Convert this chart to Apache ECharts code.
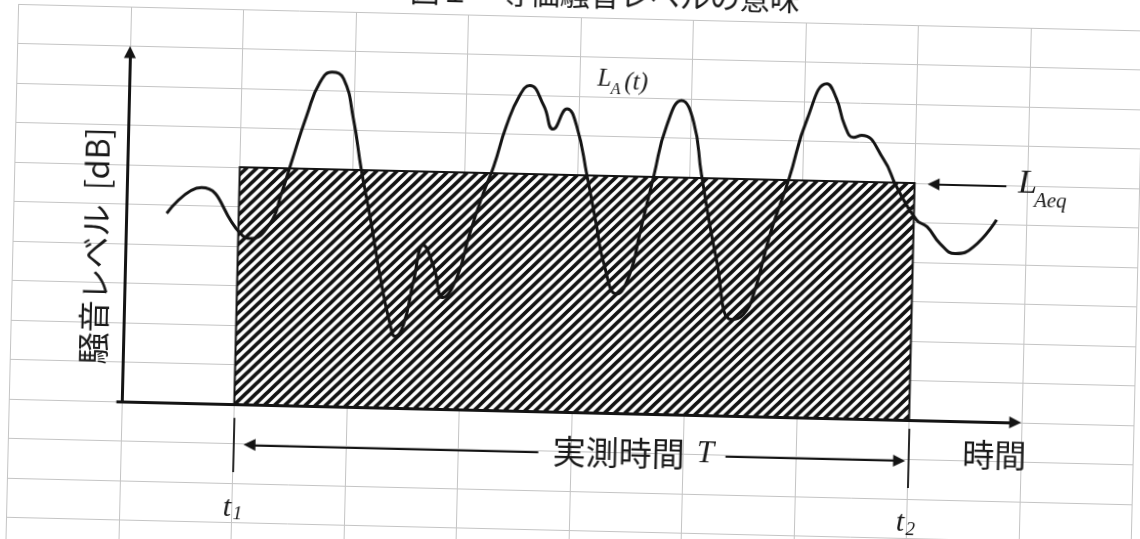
<!DOCTYPE html>
<html><head><meta charset="utf-8">
<script src="https://cdn.jsdelivr.net/npm/echarts@6/dist/echarts.min.js"></script>
<style>
html,body{margin:0;padding:0;background:#fff;overflow:hidden;width:1140px;height:539px;}
#wrap{position:absolute;left:0;top:0;width:1140px;height:539px;overflow:hidden;background:#fff}
#chart{position:absolute;left:-30px;top:-30px;width:1200px;height:600px;transform:rotate(1.35deg);transform-origin:600px 300px;}
</style></head><body><div id="wrap"><div id="chart"></div></div>
<script>
// ---- data ----
const titleText = '図１　等価騒音レベルの意味';
const yAxisName = '騒音レベル  [dB]';
const xAxisName = '時間';
const spanName = '実測時間';
const t1 = 12.5, t2 = 87.5;        // measurement start / end
const LAeq = 60;                   // equivalent level
const curveTime = [4.5,8.3,12.7,13.8,16.0,17.2,18.2,19.8,21.2,22.5,23.8,25.0,26.0,27.1,28.4,29.6,30.2,31.1,32.1,33.1,34.3,35.4,36.9,38.2,39.6,40.7,42.0,43.4,44.5,46.1,47.2,48.7,49.8,51.1,52.3,53.1,54.7,56.1,57.1,58.5,59.8,61.4,62.8,63.8,65.7,67.5,68.8,69.9,71.6,73.5,75.4,77.5,78.6,79.6,80.6,81.5,84.0,85.5,87.8,89.0,90.5,92.2,94.2,96.7];
const curveLevel = [47.9,54.6,43.3,42.0,45.9,53.7,61.4,73.5,82.0,84.6,83.0,72.8,60.1,48.2,32.9,21.1,18.1,21.2,32.3,41.3,35.9,28.2,33.4,44.5,54.8,61.7,72.0,79.8,82.4,77.4,71.5,76.7,72.5,59.8,47.0,38.5,30.1,35.3,45.6,60.2,73.0,79.5,74.1,60.9,39.3,24.4,25.7,30.9,46.4,60.1,75.6,84.6,80.9,74.1,71.2,71.8,65.8,59.0,50.7,49.0,44.8,42.4,44.2,51.2];
const axisTimeEnd = 100, axisLevelEnd = 90;

// ---- chart ----
function makeHatch(){
  const s = 10, c = document.createElement('canvas'); c.width = s; c.height = s;
  const g = c.getContext('2d'); g.fillStyle = '#fff'; g.fillRect(0,0,s,s);
  g.strokeStyle = '#121212'; g.lineWidth = 3.7;
  g.beginPath();
  g.moveTo(-2, s+2); g.lineTo(s+2, -2);
  g.moveTo(-3, 3); g.lineTo(3, -3);
  g.moveTo(s-3, s+3); g.lineTo(s+3, s-3);
  g.stroke();
  return c;
}
const hatch = makeHatch();
const chart = echarts.init(document.getElementById('chart'), null, {renderer:'canvas'});
const ink = '#141414';
const arrowLine = (a, b) => [{coord:a}, {coord:b}];
chart.setOption({
  animation: false,
  backgroundColor: '#fff',
  grid: {left: 42.5, right: 32.5, top: 47, bottom: 0, show: false},
  xAxis: {type:'value', min:-12.5, max:112.5, interval:12.5,
    axisLine:{show:false}, axisTick:{show:false}, axisLabel:{show:false},
    splitLine:{show:true, lineStyle:{color:'#c4c4c4', width:1}}},
  yAxis: {type:'value', min:-40, max:100, interval:10,
    axisLine:{show:false}, axisTick:{show:false}, axisLabel:{show:false},
    splitLine:{show:true, lineStyle:{color:'#c4c4c4', width:1}}},
  series: [
    {type:'custom', z:2, silent:true, data:[[t1, t2, LAeq]],
     renderItem(params, api){
       const a = api.coord([api.value(0), api.value(2)]);
       const b = api.coord([api.value(1), 0]);
       return {type:'rect', shape:{x:a[0], y:a[1], width:b[0]-a[0], height:b[1]-a[1]},
         style:{fill:{image:hatch, repeat:'repeat'}, stroke:ink, lineWidth:2}};
     }},
    {type:'line', z:5, silent:true, smooth:0.5, symbol:'none',
     data: curveTime.map((t,i)=>[t, curveLevel[i]]),
     lineStyle:{color:ink, width:3}},
    {type:'line', z:4, silent:true, symbol:'none', data:[], lineStyle:{width:0},
     markLine:{silent:true, animation:false, symbol:['none','triangle'], symbolSize:12,
       label:{show:false}, emphasis:{disabled:true},
       lineStyle:{color:ink, width:3, type:'solid'},
       data:[arrowLine([-0.6,0],[axisTimeEnd-0.7,0]), arrowLine([0,0],[0,axisLevelEnd-1.5])]}},
    {type:'line', z:4, silent:true, symbol:'none', data:[], lineStyle:{width:0},
     markLine:{silent:true, animation:false, symbol:['none','triangle'], symbolSize:12,
       label:{show:false}, emphasis:{disabled:true},
       lineStyle:{color:ink, width:1.8, type:'solid'},
       data:[arrowLine([46.4,-10.2],[14.3,-10.2]), arrowLine([67.2,-10.4],[86.5,-10.4]), arrowLine([97.7,59.8],[89.6,59.8])]}},
    {type:'line', z:4, silent:true, symbol:'none', data:[], lineStyle:{width:0},
     markLine:{silent:true, animation:false, symbol:['none','none'],
       label:{show:false}, emphasis:{disabled:true},
       lineStyle:{color:ink, width:1.8, type:'solid'},
       data:[arrowLine([t1,-3.5],[t1,-17.2]), arrowLine([t2,-2.2],[t2,-17.2])]}}
  ]
});

const P = v => chart.convertToPixel({gridIndex:0}, v);
const CJK = '"Noto Sans CJK JP", sans-serif';
const SERIF = '"Liberation Serif", "DejaVu Serif", serif';
function txt(v, text, font, align, extra){
  const p = P(v);
  return Object.assign({type:'text', x:p[0], y:p[1], silent:true, z:10,
    style:{text:text, font:font, fill:'#1a1a1a', textAlign:align||'left', textVerticalAlign:'middle'}}, extra||{});
}
chart.setOption({graphic: [
  txt([52.6,105.8], titleText, '30px '+CJK, 'center'),
  txt([-3.4,39.2], yAxisName, '32px '+CJK, 'center', {rotation:Math.PI/2}),
  txt([48.0,-9.9], spanName, '33px '+CJK, 'left'),
  txt([64.0,-9.9], 'T', 'italic 31px '+SERIF, 'left'),
  txt([93.5,-8.4], xAxisName, '32px '+CJK, 'left'),
  txt([11.5,-26.4], 't', 'italic 30px '+SERIF, 'left'),
  txt([12.6,-27.8], '1', 'italic 19px '+SERIF, 'left'),
  txt([86.3,-26.2], 't', 'italic 30px '+SERIF, 'left'),
  txt([87.4,-27.9], '2', 'italic 19px '+SERIF, 'left'),
  txt([52.0,84.4], 'L', 'italic 25px '+SERIF, 'left'),
  txt([53.5,81.9], 'A', 'italic 16px '+SERIF, 'left'),
  txt([55.0,83.8], '(t)', 'italic 25px '+SERIF, 'left'),
  txt([99.0,60.6], 'L', 'italic 34px '+SERIF, 'left'),
  txt([100.8,56.1], 'Aeq', 'italic 21px '+SERIF, 'left')
]});
</script></body></html>
